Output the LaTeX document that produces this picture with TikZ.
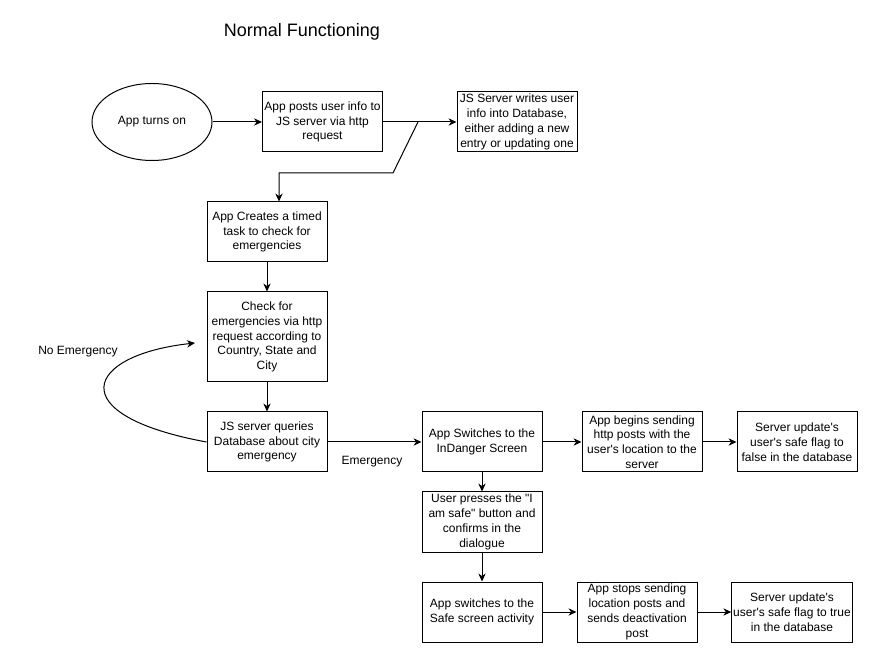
\documentclass[tikz,border=0pt]{standalone}
\usepackage{fontspec}
\setmainfont{Liberation Sans}[Ligatures=TeXOff]
\usetikzlibrary{arrows.meta,shapes.geometric}
\begin{document}
\begin{tikzpicture}[x=0.75pt,y=-0.75pt,line width=0.75pt,
    box/.style={shape=rectangle,draw=black,align=center,minimum width=90pt,minimum height=45pt,inner sep=1pt,font=\fontsize{9}{11.1}\selectfont},
    lbl/.style={font=\fontsize{9}{11.1}\selectfont},
    >={Stealth[length=6pt,width=5.5pt]}]
    \useasboundingbox (0,0) rectangle (875,666);
    \node[font=\fontsize{13.5}{15}\selectfont] (title) at (302,32) {Normal Functioning};
    \node[shape=ellipse,draw=black,minimum width=90pt,minimum height=57.75pt,lbl] (start) at (152,122) {App turns on};
    \node[box] (post) at (322.5,122) {App posts user info to\\JS server via http\\request};
    \node[box] (write) at (517,122) {JS Server writes user\\info into Database,\\either adding a new\\entry or updating one};
    \node[box] (task) at (267,232) {App Creates a timed\\task to check for\\emergencies};
    \node[box,minimum height=67.5pt] (check) at (267,337) {Check for\\emergencies via http\\request according to\\Country, State and\\City};
    \node[box] (query) at (267,442) {JS server queries\\Database about city\\emergency};
    \node[box] (danger) at (482,442) {App Switches to the\\InDanger Screen};
    \node[box] (sending) at (642,442) {App begins sending\\http posts with the\\user's location to the\\server};
    \node[box] (flagfalse) at (797,442) {Server update's\\user's safe flag to\\false in the database};
    \node[box] (press) at (482,522) {User presses the "I\\am safe" button and\\confirms in the\\dialogue};
    \node[box] (safe) at (482,612) {App switches to the\\Safe screen activity};
    \node[box] (stop) at (637,612) {App stops sending\\location posts and\\sends deactivation\\post};
    \node[box] (flagtrue) at (792,612) {Server update's\\user's safe flag to true\\in the database};
    \node[lbl] (noemerg) at (78,352) {No Emergency};
    \node[lbl] (emerg) at (372,462) {Emergency};
    % branch from the first post
    \coordinate (split) at (418,122);
    \coordinate (bend) at (393,173);
    \coordinate (knee) at (279,173);
    \coordinate (loopend) at (195,343);
    \path [->](start) edge (post);
    \path [->](post) edge (write);
    \draw [->](split) -- (bend) -- (knee) -- (knee |- task.north);
    \path [->](task) edge (check);
    \path [->](check) edge (query);
    \draw [->](query.west) .. controls (60,415) and (85,355) .. (loopend);
    \path [->](query) edge (danger);
    \path [->](danger) edge (sending);
    \path [->](sending) edge (flagfalse);
    \path [->](danger) edge (press);
    \path [->](press) edge (safe);
    \path [->](safe) edge (stop);
    \path [->](stop) edge (flagtrue);
\end{tikzpicture}
\end{document}
